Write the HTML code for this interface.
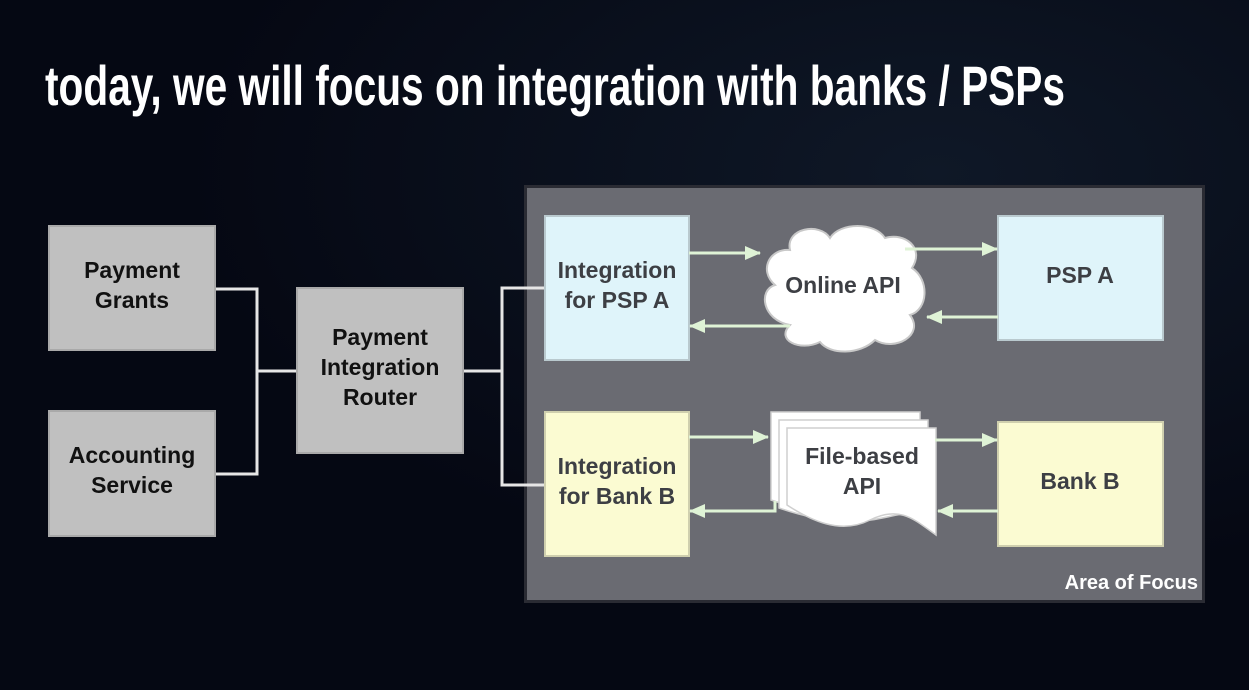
<!DOCTYPE html>
<html><head><meta charset="utf-8"><style>
html,body{margin:0;padding:0;width:1249px;height:690px;overflow:hidden;background:#070a17}
svg{display:block}
</style></head><body>
<svg width="1249" height="690" viewBox="0 0 1249 690" xmlns="http://www.w3.org/2000/svg">
<defs>
<radialGradient id="bg" cx="0.75" cy="0.25" r="0.6">
<stop offset="0" stop-color="#0f1827"/><stop offset="1" stop-color="#050813"/>
</radialGradient>
<marker id="ah" markerWidth="16" markerHeight="14" refX="15" refY="7" orient="auto" markerUnits="userSpaceOnUse">
<path d="M0,0 L16,7 L0,14 z" fill="#dff3d6"/></marker>
</defs>
<rect width="1249" height="690" fill="url(#bg)"/>
<text x="45" y="105" fill="#fff" font-family="Liberation Sans Narrow, Liberation Sans, sans-serif" font-weight="bold" font-size="56" textLength="1020" lengthAdjust="spacingAndGlyphs">today, we will focus on integration with banks / PSPs</text>

<rect x="525.5" y="186.5" width="678" height="415" fill="#6a6b72" stroke="#2a2b33" stroke-width="3"/>

<g stroke="#e6e6e6" stroke-width="3" fill="none">
<path d="M215 289 H257 V474 H215"/>
<path d="M257 371 H297"/>
<path d="M463 371 H502"/>
<path d="M545 288 H502 V485 H545"/>
</g>

<g font-family="Liberation Sans, sans-serif" font-weight="bold" font-size="23" text-anchor="middle">
<rect x="49" y="226" width="166" height="124" fill="#c0c0c0" stroke="#a9a9a9" stroke-width="2"/>
<text x="132" y="278" fill="#111">Payment</text><text x="132" y="308" fill="#111">Grants</text>
<rect x="49" y="411" width="166" height="125" fill="#c0c0c0" stroke="#a9a9a9" stroke-width="2"/>
<text x="132" y="463" fill="#111">Accounting</text><text x="132" y="493" fill="#111">Service</text>
<rect x="297" y="288" width="166" height="165" fill="#c0c0c0" stroke="#a9a9a9" stroke-width="2"/>
<text x="380" y="345" fill="#111">Payment</text><text x="380" y="375" fill="#111">Integration</text><text x="380" y="405" fill="#111">Router</text>

<rect x="545" y="216" width="144" height="144" fill="#dff4fa" stroke="#b9c9ce" stroke-width="2"/>
<text x="617" y="278" fill="#3d3f44">Integration</text><text x="617" y="308" fill="#3d3f44">for PSP A</text>
<rect x="545" y="412" width="144" height="144" fill="#fbfbd2" stroke="#cfcfae" stroke-width="2"/>
<text x="617" y="474" fill="#3d3f44">Integration</text><text x="617" y="504" fill="#3d3f44">for Bank B</text>
<rect x="998" y="216" width="165" height="124" fill="#dff4fa" stroke="#b9c9ce" stroke-width="2"/>
<text x="1080" y="283" fill="#3d3f44">PSP A</text>
<rect x="998" y="422" width="165" height="124" fill="#fbfbd2" stroke="#cfcfae" stroke-width="2"/>
<text x="1080" y="489" fill="#3d3f44">Bank B</text>

<path d="M790 250 C785 228,820 222,830 238 C840 222,875 222,885 238 C905 232,925 248,912 268 C930 280,928 310,910 315 C925 335,895 352,875 340 C860 355,830 355,820 342 C800 352,775 340,790 325 C762 320,758 290,775 285 C758 270,770 248,790 250 Z" fill="#fff" stroke="#c8c8c8" stroke-width="2"/>
<text x="843" y="293" fill="#3d3f44">Online API</text>

<g fill="#fff" stroke="#cfcfcf" stroke-width="1.5">
<path d="M771 412 H920 V505 C880 500,860 530,771 500 Z"/>
<path d="M779 420 H928 V513 C888 508,868 538,779 508 Z"/>
<path d="M787 428 H936 V535 C915 520,900 505,870 520 C840 535,810 520,787 505 Z"/>
</g>
<text x="862" y="464" fill="#3d3f44">File-based</text><text x="862" y="494" fill="#3d3f44">API</text>
</g>

<g stroke="#dff3d6" stroke-width="3" fill="none" marker-end="url(#ah)">
<path d="M689 253 H760"/>
<path d="M905 249 H997"/>
<path d="M998 317 H927"/>
<path d="M790 326 H690"/>
<path d="M689 437 H768"/>
<path d="M935 440 H997"/>
<path d="M998 511 H938"/>
<path d="M775 501 V511 H690"/>
</g>

<text x="1198" y="589" fill="#fff" font-family="Liberation Sans, sans-serif" font-weight="bold" font-size="20" text-anchor="end">Area of Focus</text>
</svg>
</body></html>
